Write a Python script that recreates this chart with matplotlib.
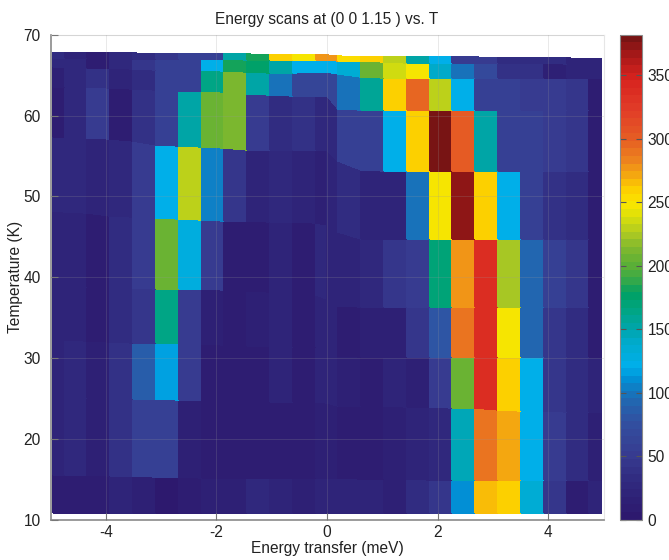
import numpy as np
import matplotlib
matplotlib.use("Agg")
import matplotlib.pyplot as plt
from matplotlib.colors import LinearSegmentedColormap

plt.rcParams['font.family'] = ['Liberation Sans', 'DejaVu Sans']
plt.rcParams['axes.unicode_minus'] = False

# ---------------- data ----------------
# energy bin boundaries (meV)
energy_edges = [-4.95, -4.744, -4.331, -3.919, -3.506, -3.094, -2.681, -2.269,
                -1.856, -1.444, -1.031, -0.619, -0.206, 0.0, 0.206, 0.619,
                1.031, 1.444, 1.856, 2.269, 2.681, 3.094, 3.506, 3.919,
                4.331, 4.744, 4.95]

# measured temperature boundaries (K) along each energy edge, bottom to top
T_b0 = [10.8] * 27
T_b1 = [15.5, 15.5, 15.5, 15.4, 15.4, 15.3, 15.3, 15.2, 15.2, 15.2, 15.1, 15.1, 15.1,
        15.1, 15.1, 15.0, 15.0, 15.0, 14.9, 14.9, 14.9, 14.9, 14.9, 14.9, 14.9, 14.9, 14.9]
T_b2 = [25.2, 25.2, 25.1, 25.0, 24.9, 24.9, 24.8, 24.8, 24.7, 24.6, 24.6, 24.5, 24.5,
        24.4, 24.1, 24.0, 24.0, 23.9, 23.9, 23.8, 23.8, 23.6, 23.5, 23.4, 23.3, 23.3, 23.3]
T_b3 = [32.2, 32.2, 32.1, 32.0, 31.9, 31.9, 31.8, 31.7, 31.6, 31.5, 31.5, 31.4, 31.4,
        31.3, 30.2, 30.1, 30.1, 30.1, 30.1, 30.1, 30.1, 30.1, 30.1, 30.1, 30.1, 30.1, 30.1]
T_b4 = [38.9, 38.9, 38.8, 38.8, 38.7, 38.6, 38.6, 38.5, 38.4, 38.3, 38.2, 38.0, 37.8,
        37.3, 36.4, 36.35, 36.35, 36.35, 36.35, 36.35, 36.35, 36.35, 36.35, 36.35, 36.35, 36.35, 36.35]
T_b5 = [48.2, 48.1, 47.9, 47.6, 47.4, 47.3, 47.2, 47.1, 47.0, 46.9, 46.8, 46.8, 46.7,
        46.5, 45.6, 44.7, 44.7, 44.7, 44.7, 44.7, 44.7, 44.7, 44.7, 44.7, 44.7, 44.7, 44.7]
T_b6 = [57.3, 57.3, 57.2, 57.1, 56.8, 56.4, 56.2, 56.1, 56.0, 55.8, 55.7, 55.7, 55.7,
        55.7, 54.4, 53.3, 53.2, 53.2, 53.2, 53.2, 53.2, 53.2, 53.2, 53.2, 53.2, 53.2, 53.2]
T_b7 = [63.6, 63.6, 63.5, 63.4, 63.3, 63.2, 63.1, 63.0, 62.9, 62.7, 62.5, 62.4, 62.4,
        62.4, 60.8, 60.7, 60.65, 60.65, 60.65, 60.65, 60.65, 60.65, 60.65, 60.65, 60.65, 60.65, 60.65]
T_b8 = [66.0, 66.0, 65.9, 65.9, 65.8, 65.7, 65.7, 65.6, 65.5, 65.4, 65.3, 65.3, 65.4,
        65.4, 65.2, 64.8, 64.6, 64.6, 64.6, 64.6, 64.6, 64.6, 64.6, 64.6, 64.6, 64.6, 64.6]
T_b9 = [67.1, 67.1, 67.1, 67.1, 67.0, 67.0, 67.0, 66.95, 66.95, 66.9, 66.9, 66.9, 66.9,
        66.9, 66.8, 66.7, 66.6, 66.5, 66.5, 66.5, 66.5, 66.5, 66.45, 66.45, 66.4, 66.4, 66.4]
T_b10 = [67.7, 67.7, 67.7, 67.7, 67.7, 67.65, 67.65, 67.6, 67.6, 67.6, 67.55, 67.5, 67.5,
         67.45, 67.35, 67.3, 67.3, 67.25, 67.25, 67.2, 67.2, 67.15, 67.1, 67.1, 67.1, 67.05, 67.05]

# intensity (counts) for each scan row, bottom (lowest T) to top
I_r0 = [10, 10, 8, 22, 12, 4, 8, 15, 12, 25, 20, 12, 18, 18, 18, 20, 15, 30, 42, 108, 268, 258, 132, 45, 6, 20]
I_r1 = [22, 25, 12, 40, 58, 58, 12, 10, 6, 8, 10, 8, 15, 15, 8, 6, 15, 20, 25, 148, 288, 270, 120, 50, 30, 12]
I_r2 = [22, 25, 12, 40, 88, 118, 50, 10, 8, 10, 20, 8, 18, 20, 12, 8, 18, 14, 50, 205, 335, 258, 120, 45, 30, 20]
I_r3 = [22, 22, 10, 30, 42, 165, 50, 12, 8, 12, 20, 8, 18, 22, 10, 12, 12, 45, 78, 288, 335, 245, 90, 45, 30, 10]
I_r4 = [22, 22, 10, 30, 50, 205, 128, 50, 10, 8, 22, 8, 25, 20, 22, 28, 45, 48, 168, 280, 335, 225, 90, 55, 42, 10]
I_r5 = [28, 28, 18, 25, 50, 120, 230, 105, 45, 20, 28, 18, 15, 22, 30, 18, 22, 100, 245, 372, 258, 120, 55, 40, 35, 10]
I_r6 = [10, 25, 50, 10, 40, 55, 150, 205, 210, 52, 35, 40, 25, 28, 55, 55, 122, 258, 378, 302, 150, 55, 55, 50, 42, 10]
I_r7 = [15, 25, 38, 22, 35, 55, 58, 165, 210, 150, 100, 62, 62, 60, 100, 160, 258, 298, 228, 122, 55, 55, 52, 50, 45, 10]
I_r8 = [25, 28, 10, 25, 45, 55, 58, 122, 185, 175, 150, 125, 125, 122, 135, 205, 235, 245, 140, 100, 70, 40, 38, 15, 20, 20]
I_r9 = [30, 20, 10, 25, 35, 45, 55, 55, 150, 180, 258, 250, 275, 275, 255, 258, 232, 150, 125, 50, 50, 35, 30, 35, 20, 20]

x_ticks = [-4, -2, 0, 2, 4]
y_ticks = [10, 20, 30, 40, 50, 60, 70]
cbar_ticks = [0, 50, 100, 150, 200, 250, 300, 350]
c_max = 382

# ---------------- colormap ----------------
cmap_anchors = [
    (0, (45, 25, 110)), (25, (48, 40, 125)), (50, (55, 60, 145)), (75, (50, 80, 160)),
    (90, (35, 100, 175)), (100, (20, 120, 190)), (110, (0, 145, 215)), (120, (0, 175, 235)),
    (140, (0, 170, 200)), (150, (0, 165, 170)), (165, (0, 165, 130)), (178, (0, 160, 100)),
    (190, (60, 170, 70)), (200, (90, 175, 55)), (215, (130, 185, 45)), (225, (170, 200, 35)),
    (240, (220, 225, 10)), (250, (250, 230, 0)), (262, (252, 205, 0)), (272, (245, 170, 15)),
    (285, (237, 130, 30)), (300, (230, 95, 35)), (325, (225, 60, 40)), (350, (215, 35, 30)),
    (368, (170, 25, 25)), (382, (120, 20, 20))]
cmap = LinearSegmentedColormap.from_list(
    'custom', [(v / c_max, tuple(c / 255 for c in col)) for v, col in cmap_anchors], N=64)

# ---------------- figure ----------------
W, H = 669, 560
fig = plt.figure(figsize=(W / 100, H / 100), dpi=100)
ax = fig.add_axes([50.5 / W, 1 - 519.6 / H, 553 / W, 484.8 / H])

Y = np.array([T_b0, T_b1, T_b2, T_b3, T_b4, T_b5, T_b6, T_b7, T_b8, T_b9, T_b10])
X = np.tile(np.array(energy_edges), (Y.shape[0], 1))
C = np.array([I_r0, I_r1, I_r2, I_r3, I_r4, I_r5, I_r6, I_r7, I_r8, I_r9], dtype=float)

mesh = ax.pcolormesh(X, Y, C, cmap=cmap, vmin=0, vmax=c_max, shading='flat',
                     edgecolors='face', linewidth=0.2, zorder=1)

ax.set_xlim(-5, 5)
ax.set_ylim(10, 70)
ax.set_xticks(x_ticks)
ax.set_yticks(y_ticks)
ax.grid(True, color='#999999', alpha=0.22, linewidth=0.7)
ax.set_axisbelow(False)
for gl in ax.get_xgridlines() + ax.get_ygridlines():
    gl.set_zorder(3)

fs = 11.2
ax.tick_params(direction='in', length=5, width=0.8, color='#777777', labelsize=fs,
               labelcolor='#222222')
ax.tick_params(axis='x', pad=4)
ax.tick_params(axis='y', pad=7)
for side in ['left', 'bottom']:
    ax.spines[side].set_color('#8a8a8a')
    ax.spines[side].set_linewidth(1.2)
for side in ['top', 'right']:
    ax.spines[side].set_color('#e6e6e6')
    ax.spines[side].set_linewidth(0.8)

ax.set_title('Energy scans at (0 0 1.15 ) vs. T', fontsize=fs, color='#222222', pad=8)
ax.set_xlabel('Energy transfer (meV)', fontsize=fs, color='#222222')
ax.set_ylabel('Temperature (K)', fontsize=fs, color='#222222')
ax.xaxis.set_label_coords(0.5, -0.044)
ax.yaxis.set_label_coords(-0.049, 0.5)

cax = fig.add_axes([620 / W, 1 - 519.6 / H, 22 / W, 484.8 / H])
cb = fig.colorbar(mesh, cax=cax)
cb.set_ticks(cbar_ticks)
cb.ax.tick_params(direction='in', length=4, width=0.8, color='#555555', labelsize=fs,
                  labelcolor='#222222', left=True, right=True, pad=4)
cb.outline.set_edgecolor('#8a8a8a')
cb.outline.set_linewidth(0.8)

fig.savefig('out.png', dpi=100)
